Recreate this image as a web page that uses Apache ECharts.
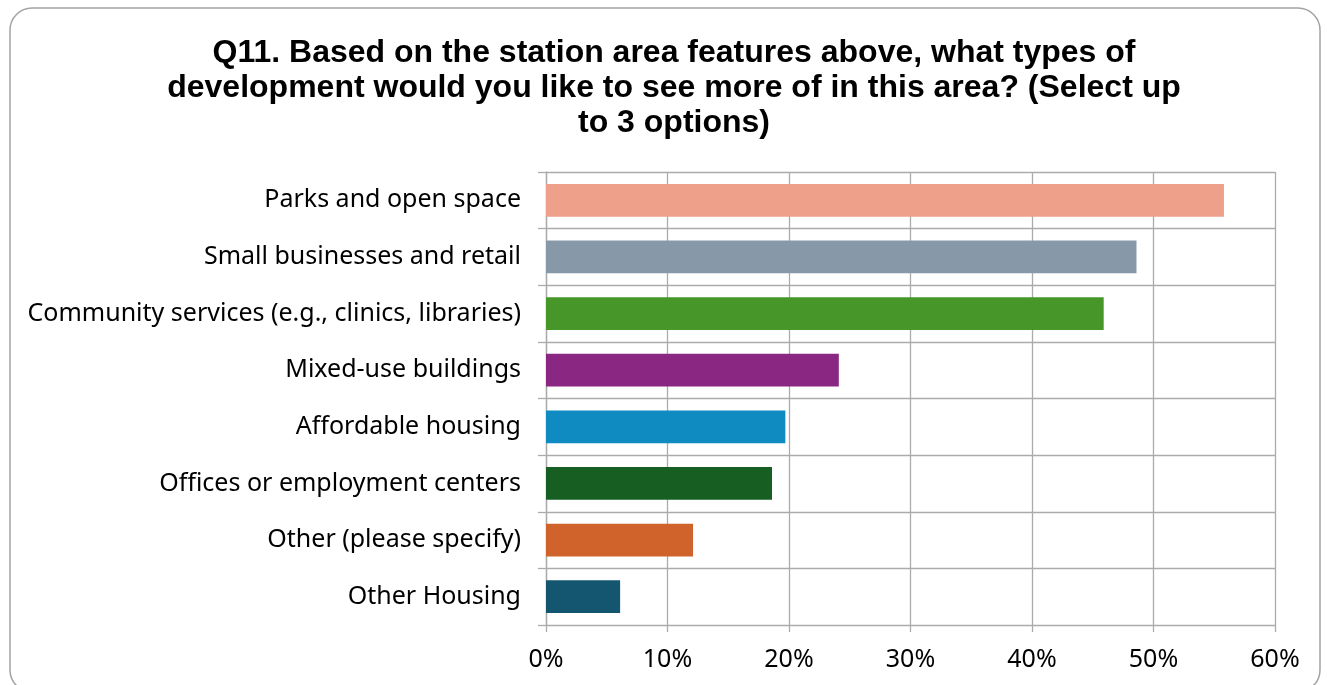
<!DOCTYPE html>
<html>
<head>
<meta charset="utf-8">
<style>
  html, body { margin: 0; padding: 0; background: #ffffff; }
  #chart { width: 1327px; height: 685px; }
</style>
<script src="https://cdn.jsdelivr.net/npm/echarts@6/dist/echarts.min.js"></script>
</head>
<body>
<div id="chart"></div>
<script>
// Survey responses, top to bottom
const categories = [
  'Parks and open space',
  'Small businesses and retail',
  'Community services (e.g., clinics, libraries)',
  'Mixed-use buildings',
  'Affordable housing',
  'Offices or employment centers',
  'Other (please specify)',
  'Other Housing'
];
// Share of respondents, percent
const shares = [55.8, 48.6, 45.9, 24.1, 19.7, 18.6, 12.1, 6.1];
const barColors = ['#EEA08A', '#8799A9', '#47962A', '#8A2783', '#0F8BC1', '#175E23', '#D0632B', '#145570'];

const titleText = 'Q11. Based on the station area features above, what types of\ndevelopment would you like to see more of in this area? (Select up\nto 3 options)';

const chart = echarts.init(document.getElementById('chart'), null, { renderer: 'canvas' });
const gridColor = '#ababab';

chart.setOption({
  animation: false,
  backgroundColor: '#ffffff',
  title: {
    text: titleText,
    left: 669,
    top: 31,
    textAlign: 'center',
    textStyle: {
      fontFamily: 'Liberation Sans, Arial, sans-serif',
      fontWeight: 'bold',
      fontSize: 32,
      lineHeight: 35,
      color: '#000000'
    }
  },
  graphic: [{
    type: 'rect',
    shape: { x: 10, y: 8, width: 1310, height: 684, r: 22 },
    style: { fill: 'none', stroke: '#a3a3a3', lineWidth: 1.5 },
    silent: true,
    z: -1
  }],
  grid: { left: 546, right: 52, top: 172, bottom: 60, containLabel: false },
  xAxis: {
    type: 'value',
    min: 0,
    max: 60,
    interval: 10,
    axisLine: { show: false },
    axisTick: { show: true, length: 7, lineStyle: { color: gridColor, width: 1.3 } },
    splitLine: { show: true, lineStyle: { color: gridColor, width: 1.3 } },
    axisLabel: {
      formatter: '{value}%',
      margin: 22,
      fontFamily: 'Noto Sans, sans-serif',
      fontSize: 25,
      color: '#000000'
    }
  },
  yAxis: {
    type: 'category',
    data: categories,
    inverse: true,
    axisLine: { show: true, lineStyle: { color: gridColor, width: 1.3 } },
    axisTick: { show: true, length: 8, lineStyle: { color: gridColor, width: 1.3 } },
    splitLine: { show: true, lineStyle: { color: gridColor, width: 1.3 } },
    axisLabel: {
      margin: 25,
      fontFamily: 'Noto Sans, sans-serif',
      fontSize: 25,
      color: '#000000'
    }
  },
  series: [{
    type: 'bar',
    data: shares.map((v, i) => ({ value: v, itemStyle: { color: barColors[i] } })),
    barWidth: '58%'
  }]
});
</script>
</body>
</html>
